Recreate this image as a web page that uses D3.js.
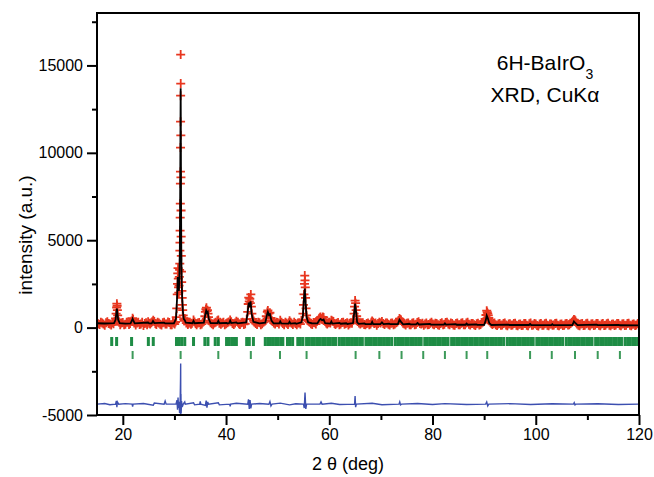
<!DOCTYPE html>
<html><head><meta charset="utf-8">
<script src="https://cdn.jsdelivr.net/npm/d3@7/dist/d3.min.js"></script>
<style>html,body{margin:0;padding:0;background:#fff;}svg{display:block;}</style>
</head><body>
<svg id="c" width="654" height="477"></svg>
<script>
// ---- data ----
const xTicksMajor = [20, 40, 60, 80, 100, 120];
const xTicksMinor = [30, 50, 70, 90, 110];
const yTicksMajor = [-5000, 0, 5000, 10000, 15000];
const yTicksMinor = [-2500, 2500, 7500, 12500, 17500];
const xDomain = [15, 120];
const yDomain = [-5000, 18000];
const labelLine1 = "6H-BaIrO";
const labelSub = "3";
const labelLine2 = "XRD, CuKα";
const xTitle = "2 θ (deg)";
const yTitle = "intensity (a.u.)";

// observed intensities [2θ, I]
const observed = [
[15.0,310],[15.25,220],[15.5,180],[15.75,300],[16.0,260],[16.25,200],[16.5,140],[16.75,280],[17.0,330],[17.25,240],[17.5,200],[17.75,150],[18.0,280],[18.2,220],[18.4,350],
[18.6,520],[18.7,800],[18.8,1150],[18.85,1370],[18.9,1250],[18.95,1000],[19.0,700],[19.1,450],[19.3,300],
[19.5,160],[19.75,260],[20.0,290],[20.25,170],[20.5,190],[20.75,300],[21.0,320],[21.2,180],[21.4,230],[21.7,380],[21.9,540],[22.0,470],[22.2,260],[22.5,150],[22.75,270],
[23.0,300],[23.25,180],[23.5,210],[23.75,310],[24.0,120],[24.25,240],[24.5,280],[24.7,170],[24.9,330],[25.1,250],[25.3,200],[25.5,280],[25.7,330],[25.9,420],[26.1,350],[26.3,240],[26.5,180],[26.75,300],
[27.0,270],[27.25,190],[27.5,150],[27.75,280],[28.0,310],[28.25,200],[28.5,210],[28.75,320],[29.0,290],[29.25,170],[29.5,160],[29.7,300],[29.9,260],[30.05,200],
[30.2,320],[30.35,600],[30.45,1100],[30.55,1900],[30.6,2500],[30.65,3100],[30.7,3400],[30.75,2800],[30.8,2300],
[30.85,2000],[30.9,2400],[30.95,2900],[31.0,3300],[31.04,3661],[31.06,4405],[31.08,4863],[31.1,5549],[31.12,6293],
[31.14,7094],[31.16,8238],[31.17,8924],[31.18,10300],[31.19,11785],[31.2,13270],[31.21,15620],[31.22,13960],
[31.24,11000],[31.26,8600],[31.28,6700],[31.3,5200],[31.33,4100],[31.36,3200],[31.4,2600],[31.45,2100],[31.5,1700],
[31.55,1300],[31.6,1000],[31.7,700],[31.8,480],[31.9,390],[32.0,520],[32.1,430],[32.3,260],[32.45,330],[32.6,180],[32.8,250],
[33.0,300],[33.2,190],[33.4,250],[33.7,430],[33.9,320],[34.1,230],[34.3,160],[34.55,260],[34.8,290],[35.05,170],[35.3,200],[35.5,300],[35.7,380],[35.9,650],[36.0,900],
[36.1,1050],[36.2,1140],[36.3,950],[36.4,1000],[36.5,800],[36.6,600],[36.8,400],[37.0,280],[37.25,220],[37.5,170],[37.75,260],[38.0,300],
[38.3,390],[38.5,430],[38.7,250],[38.85,300],[39.0,190],[39.25,260],[39.5,300],[39.75,170],[40.0,220],[40.25,280],[40.5,320],[40.8,430],[41.0,330],[41.25,240],[41.5,180],[41.75,270],
[42.0,360],[42.3,300],[42.5,220],[42.7,180],[42.95,280],[43.2,300],[43.45,180],[43.7,220],[44.0,480],[44.2,900],[44.3,1350],[44.4,1716],[44.5,1500],
[44.6,1650],[44.7,1400],[44.8,1900],[44.9,1200],[45.0,800],[45.2,500],[45.35,380],[45.5,300],[45.75,230],[46.0,180],[46.25,300],[46.5,280],[46.75,170],[47.0,220],[47.25,300],
[47.5,380],[47.8,650],[48.0,900],[48.1,980],[48.3,800],[48.5,850],[48.7,550],[48.85,420],[49.0,350],[49.25,260],[49.5,200],[49.75,310],[50.0,290],[50.25,200],
[50.5,420],[50.75,300],[51.0,230],[51.25,170],[51.5,300],[51.75,250],[52.0,180],[52.15,280],[52.3,390],[52.5,300],[52.7,250],[52.95,180],[53.2,300],[53.45,240],[53.7,160],[53.95,270],[54.2,280],[54.4,200],[54.6,420],
[54.9,800],[55.0,1300],[55.1,1900],[55.2,2500],[55.25,2975],[55.3,2700],[55.35,2300],[55.4,1700],[55.5,1100],
[55.6,700],[55.8,450],[56.0,360],[56.2,300],[56.45,220],[56.7,180],[56.95,290],[57.2,280],[57.4,200],[57.6,350],[57.8,420],[58.0,500],[58.15,560],[58.3,600],[58.45,480],[58.6,520],[58.75,610],[58.9,580],[59.05,420],
[59.2,350],[59.4,260],[59.6,200],[59.8,280],[60.0,300],[60.2,260],[60.4,420],[60.6,380],[60.8,350],[61.0,240],[61.2,180],[61.45,250],[61.7,290],[61.95,170],[62.2,200],[62.45,290],[62.7,310],[62.95,190],[63.2,230],
[63.45,280],[63.7,150],[63.95,220],[64.2,280],[64.4,250],[64.6,450],[64.8,800],[64.9,1200],[65.0,1545],[65.1,1400],[65.2,1000],[65.3,650],[65.4,480],[65.5,350],
[65.75,260],[66.0,200],[66.25,270],[66.5,280],[66.75,180],[67.0,160],[67.25,240],[67.5,260],[67.75,170],[68.0,200],[68.15,300],[68.3,380],[68.5,300],[68.7,230],[68.95,260],[69.2,140],[69.45,230],[69.7,300],[69.95,260],[70.2,350],
[70.45,240],[70.7,180],[70.95,270],[71.2,260],[71.45,190],[71.7,150],[71.95,250],[72.2,270],[72.45,170],[72.7,200],[72.95,280],[73.2,320],[73.4,400],[73.6,515],[73.75,470],[73.9,430],[74.1,330],[74.3,250],[74.55,200],[74.8,150],
[75.05,250],[75.3,260],[75.55,160],[75.8,170],[76.05,250],[76.3,280],[76.55,160],[76.8,190],[77.05,290],[77.3,330],[77.55,240],[77.8,200],[78.05,250],[78.3,140],[78.55,210],[78.8,270],[79.05,160],[79.3,180],[79.55,250],[79.8,300],
[80.05,200],[80.3,160],[80.55,250],[80.8,240],[81.05,170],[81.3,140],[81.55,230],[81.8,280],[82.05,170],[82.3,190],[82.55,290],[82.8,310],[83.05,200],[83.3,170],[83.55,260],[83.8,230],[84.05,150],[84.3,130],[84.55,240],[84.8,260],
[85.05,170],[85.3,160],[85.55,250],[85.8,280],[86.05,160],[86.3,170],[86.55,260],[86.8,300],[87.05,190],[87.3,150],[87.55,230],[87.8,240],[88.05,160],[88.3,120],[88.55,220],[88.8,250],[89.05,150],[89.3,180],[89.55,260],[89.8,320],
[90.0,380],[90.2,500],[90.35,720],[90.5,970],[90.6,880],[90.7,800],[90.8,700],[90.9,550],[91.05,420],[91.2,300],[91.4,240],[91.6,180],[91.8,240],[92.0,260],[92.25,160],[92.5,120],[92.75,210],[93.0,230],[93.25,140],[93.5,150],
[93.75,230],[94.0,260],[94.25,150],[94.5,110],[94.75,200],[95.0,220],[95.25,130],[95.5,150],[95.75,240],[96.0,250],[96.25,140],[96.5,100],[96.75,190],[97.0,210],[97.25,120],[97.5,140],[97.75,230],[98.0,240],[98.25,130],[98.5,110],
[98.75,220],[99.0,260],[99.25,140],[99.5,150],[99.75,230],[100.0,200],[100.25,120],[100.5,90],[100.75,200],[101.0,230],[101.25,130],[101.5,140],[101.75,220],[102.0,250],[102.25,140],[102.5,110],[102.75,210],[103.0,200],[103.25,130],[103.5,150],
[103.75,230],[104.0,250],[104.25,130],[104.5,100],[104.75,190],[105.0,210],[105.25,120],[105.5,140],[105.75,220],[106.0,240],[106.25,150],[106.5,170],[106.75,240],[107.0,300],[107.2,380],[107.4,460],[107.55,430],[107.7,380],[107.85,280],[108.0,200],
[108.25,140],[108.5,110],[108.75,200],[109.0,230],[109.25,120],[109.5,140],[109.75,220],[110.0,250],[110.25,130],[110.5,100],[110.75,200],[111.0,220],[111.25,120],[111.5,150],[111.75,230],[112.0,240],[112.25,130],[112.5,110],[112.75,210],[113.0,230],
[113.25,120],[113.5,130],[113.75,220],[114.0,250],[114.25,140],[114.5,100],[114.75,190],[115.0,210],[115.25,120],[115.5,150],[115.75,230],[116.0,240],[116.25,130],[116.5,110],[116.75,200],[117.0,220],[117.25,120],[117.5,140],[117.75,230],[118.0,250],
[118.25,130],[118.5,100],[118.75,190],[119.0,210],[119.25,120],[119.5,150],[119.75,230],[120.0,220]
];

// calculated profile [2θ, I]
const calculated = [
[15,250],[16.5,235],[18.3,250],[18.6,450],[18.75,850],[18.85,1090],[18.95,850],[19.1,450],[19.4,260],[20.5,230],[21.5,240],[21.8,420],
[21.9,500],[22.0,420],[22.3,240],[24.9,290],[25.1,240],[25.6,240],[25.85,380],[26.1,260],[28.0,280],[28.2,240],[29.9,240],[30.3,500],[30.5,1600],[30.65,2900],
[30.75,2600],[30.85,2100],[30.95,2800],[31.05,4500],[31.12,8000],[31.18,12000],[31.21,13700],[31.24,11500],
[31.28,7500],[31.33,4500],[31.4,2800],[31.5,1700],[31.65,900],[31.8,500],[32.0,420],[32.2,280],[33.5,250],[33.7,380],
[33.9,250],[35.7,280],[35.95,700],[36.15,970],[36.3,850],[36.45,900],[36.65,500],[37.0,260],[38.3,260],[38.5,380],
[38.7,250],[40.1,270],[40.3,230],[40.6,260],[40.8,400],[41.0,260],[42.0,300],[42.2,240],[43.9,300],[44.15,800],[44.4,1430],[44.55,1300],[44.75,1500],[44.95,800],
[45.3,330],[46.5,240],[47.6,280],[47.9,700],[48.1,900],[48.3,720],[48.5,760],[48.8,400],[49.2,250],[50.3,240],[50.5,350],
[50.7,240],[52.1,230],[52.3,330],[52.5,230],[53.4,260],[53.6,220],[54.6,300],[54.9,700],[55.1,1700],[55.25,2230],[55.4,1500],[55.6,600],
[55.9,300],[56.6,250],[57.7,240],[58.1,450],[58.3,500],[58.6,420],[58.9,460],[59.2,250],[60.2,230],[60.4,350],[60.6,230],
[62.0,270],[62.2,220],[63.3,250],[63.5,210],[64.6,260],[64.85,900],[65.0,1370],[65.15,1000],[65.4,300],[65.7,210],[66.8,240],[67.0,200],[68.1,200],[68.3,330],[68.5,200],[69.9,200],
[70.2,300],[70.5,200],[71.6,230],[71.8,195],[73.3,200],[73.6,450],[73.9,330],[74.3,190],[75.5,220],[75.7,185],[76.8,180],[77.1,260],[77.4,180],[79.5,210],[79.7,175],[82.2,170],
[82.4,240],[82.6,170],[84.5,195],[84.7,165],[86.4,165],[86.6,230],[86.8,165],[88.5,185],[88.7,160],[90.0,160],[90.3,400],[90.5,690],[90.7,550],[91.0,250],
[91.4,150],[94.7,175],[94.9,150],[98.7,150],[98.9,210],[99.1,150],[103.0,145],[103.2,200],[103.4,145],[107.1,140],[107.4,350],[107.7,250],
[108.1,140],[111.8,165],[112.0,140],[116.1,160],[116.3,135],[120,130]
];

// difference curve (obs - calc, offset) [2θ, I]
const difference = [
[15,-4380],[16.5,-4340],[17.5,-4410],[18.6,-4380],[18.75,-4200],[18.85,-4550],[18.95,-4250],[19.2,-4380],[20.5,-4350],
[21.8,-4380],[21.9,-4520],[22.0,-4380],[24,-4340],[25.9,-4440],[26.1,-4320],[28.0,-4380],[28.2,-4200],[28.4,-4380],
[30.3,-4380],[30.5,-4150],[30.6,-4700],[30.7,-4000],[30.8,-4600],[30.9,-4250],[31.0,-4900],[31.1,-4500],[31.18,-3000],
[31.21,-2050],[31.23,-4950],[31.26,-3800],[31.3,-4900],[31.38,-4200],[31.5,-4550],[31.7,-4380],[32.0,-4250],[32.1,-4380],
[33.7,-4300],[33.9,-4420],[34.9,-4380],[35.0,-4220],[35.1,-4380],[36.0,-4450],[36.15,-4180],[36.3,-4580],[36.45,-4250],
[36.6,-4380],[38.5,-4300],[38.7,-4420],[40.7,-4380],[40.8,-4500],[40.9,-4380],[42.0,-4330],[44.2,-4380],[44.35,-4100],
[44.5,-4650],[44.65,-4150],[44.8,-4620],[44.95,-4380],[46.5,-4340],[48.3,-4380],[48.5,-4230],[48.7,-4480],[48.9,-4380],
[50.5,-4320],[52.3,-4420],[53.5,-4360],[55.0,-4380],[55.15,-4600],[55.3,-3720],[55.45,-4650],[55.6,-4380],[58.2,-4380],
[58.4,-4250],[58.6,-4380],[60.4,-4330],[62.0,-4400],[64.9,-4380],[65.0,-3920],[65.1,-4550],[65.25,-4380],[68.3,-4330],
[70.2,-4410],[73.5,-4380],[73.65,-4250],[73.8,-4420],[74,-4380],[77.1,-4340],[80,-4400],[82.4,-4350],[86.6,-4400],
[90.3,-4380],[90.5,-4260],[90.7,-4480],[90.9,-4380],[95,-4350],[99,-4400],[103.2,-4360],[107.3,-4380],[107.45,-4300],
[107.6,-4420],[107.8,-4380],[112,-4360],[116,-4400],[120,-4380]
];

// Bragg reflection positions, phase 1 (6H-BaIrO3) and phase 2
const reflections1 = [
17.85,18.8,21.7,24.95,25.9,30.4,30.9,31.4,32.0,33.7,35.9,36.5,37.9,38.5,40.1,40.6,41.1,41.5,42.0,44.0,44.5,45.3,
47.6,48.1,48.6,49.1,49.6,50.1,50.6,51.0,51.9,52.4,52.9,53.9,54.4,54.9,55.6,56.1,56.6,57.1,57.6,58.1,58.7,59.2,59.7,
60.2,60.7,61.2,61.9,62.4,62.9,63.4,63.9,64.4,64.9,65.4,65.9,66.4,67.1,67.6,68.1,68.6,69.1,69.6,70.1,70.6,71.1,71.6,
72.1,72.8,73.3,73.8,74.3,74.8,75.3,75.8,76.3,76.8,77.3,77.8,78.5,79.0,79.5,80.0,80.5,81.0,81.5,82.0,82.5,83.0,83.7,
84.2,84.7,85.2,85.7,86.2,86.7,87.2,87.7,88.2,88.7,89.3,89.8,90.3,90.8,91.3,91.8,92.3,92.8,93.3,93.8,94.5,95.0,95.5,
96.0,96.5,97.0,97.5,98.0,98.5,99.0,99.5,100.2,100.7,101.2,101.7,102.2,102.7,103.2,103.7,104.2,104.7,105.2,105.9,
106.4,106.9,107.4,107.9,108.4,108.9,109.4,109.9,110.4,110.9,111.6,112.1,112.6,113.1,113.6,114.1,114.6,115.1,115.6,
116.1,116.6,117.3,117.8,118.3,118.8,119.3,119.8
];
const reflections2 = [21.9,31.2,38.5,44.8,50.45,55.6,65.1,69.7,74.0,78.2,82.4,86.6,90.6,98.9,103.1,107.6,112.0,116.3];

// ---- drawing ----
const svg = d3.select("#c");
const L = 97, R = 639, T = 13, B = 415;
const x = d3.scaleLinear().domain(xDomain).range([L, R]);
const y = d3.scaleLinear().domain(yDomain).range([B, T]);
const font = "'Liberation Sans', Arial, Helvetica, sans-serif";

const defs = svg.append("defs");
defs.append("clipPath").attr("id","clip").append("rect")
  .attr("x", L).attr("y", T).attr("width", R-L).attr("height", B-T);

const plot = svg.append("g").attr("clip-path","url(#clip)");

// observed crosses
plot.append("g").selectAll("path").data(observed).join("path")
  .attr("d", d => `M${x(d[0])-4.5},${y(d[1])}h9M${x(d[0])},${y(d[1])-4.5}v9`)
  .attr("stroke", "#e8361f").attr("stroke-width", 1.8).attr("fill","none");

// calculated line
plot.append("path").datum(calculated.slice().sort((a,b)=>a[0]-b[0]))
  .attr("d", d3.line().x(d => x(d[0])).y(d => y(d[1])))
  .attr("fill","none").attr("stroke","#000").attr("stroke-width",1.8);

// reflections
plot.append("g").selectAll("rect").data(reflections1).join("rect")
  .attr("x", d => x(d)-1.5).attr("y", 337).attr("width", 3).attr("height", 9)
  .attr("fill", "#1e8c45");
plot.append("g").selectAll("rect").data(reflections2).join("rect")
  .attr("x", d => x(d)-1).attr("y", 351).attr("width", 2).attr("height", 8)
  .attr("fill", "#3d9a5a");

// difference line
plot.append("path").datum(difference.slice().sort((a,b)=>a[0]-b[0]))
  .attr("d", d3.line().x(d => x(d[0])).y(d => y(d[1])))
  .attr("fill","none").attr("stroke","#3c4fb0").attr("stroke-width",1.4);

// frame
svg.append("rect").attr("x", L).attr("y", T).attr("width", R-L).attr("height", B-T)
  .attr("fill","none").attr("stroke","#000").attr("stroke-width",2);

// axes
const fmt = d => String(d);
svg.append("g").attr("transform",`translate(${L},0)`)
  .call(d3.axisLeft(y).tickValues(yTicksMajor).tickSize(10).tickPadding(4).tickFormat(fmt));
svg.append("g").attr("transform",`translate(${L},0)`)
  .call(d3.axisLeft(y).tickValues(yTicksMinor).tickSize(5).tickFormat(""));
svg.append("g").attr("transform",`translate(0,${B})`)
  .call(d3.axisBottom(x).tickValues(xTicksMajor).tickSize(10).tickPadding(4).tickFormat(fmt));
svg.append("g").attr("transform",`translate(0,${B})`)
  .call(d3.axisBottom(x).tickValues(xTicksMinor).tickSize(5).tickFormat(""));
svg.selectAll(".domain").remove();
svg.selectAll(".tick line").attr("stroke","#000").attr("stroke-width",2);
svg.selectAll(".tick text").attr("font-family",font).attr("font-size",16).attr("fill","#000");

// axis titles
svg.append("text").attr("x", 348).attr("y", 470).attr("text-anchor","middle")
  .attr("font-family",font).attr("font-size",18).text(xTitle);
svg.append("text").attr("transform","translate(32,235) rotate(-90)").attr("text-anchor","middle")
  .attr("font-family",font).attr("font-size",19).text(yTitle);

// annotation
const t1 = svg.append("text").attr("x", 545).attr("y", 70).attr("text-anchor","middle")
  .attr("font-family",font).attr("font-size",21);
t1.append("tspan").text(labelLine1);
t1.append("tspan").attr("font-size",14).attr("dy",9).text(labelSub);
svg.append("text").attr("x", 545).attr("y", 102).attr("text-anchor","middle")
  .attr("font-family",font).attr("font-size",21).text(labelLine2);
</script>
</body></html>
